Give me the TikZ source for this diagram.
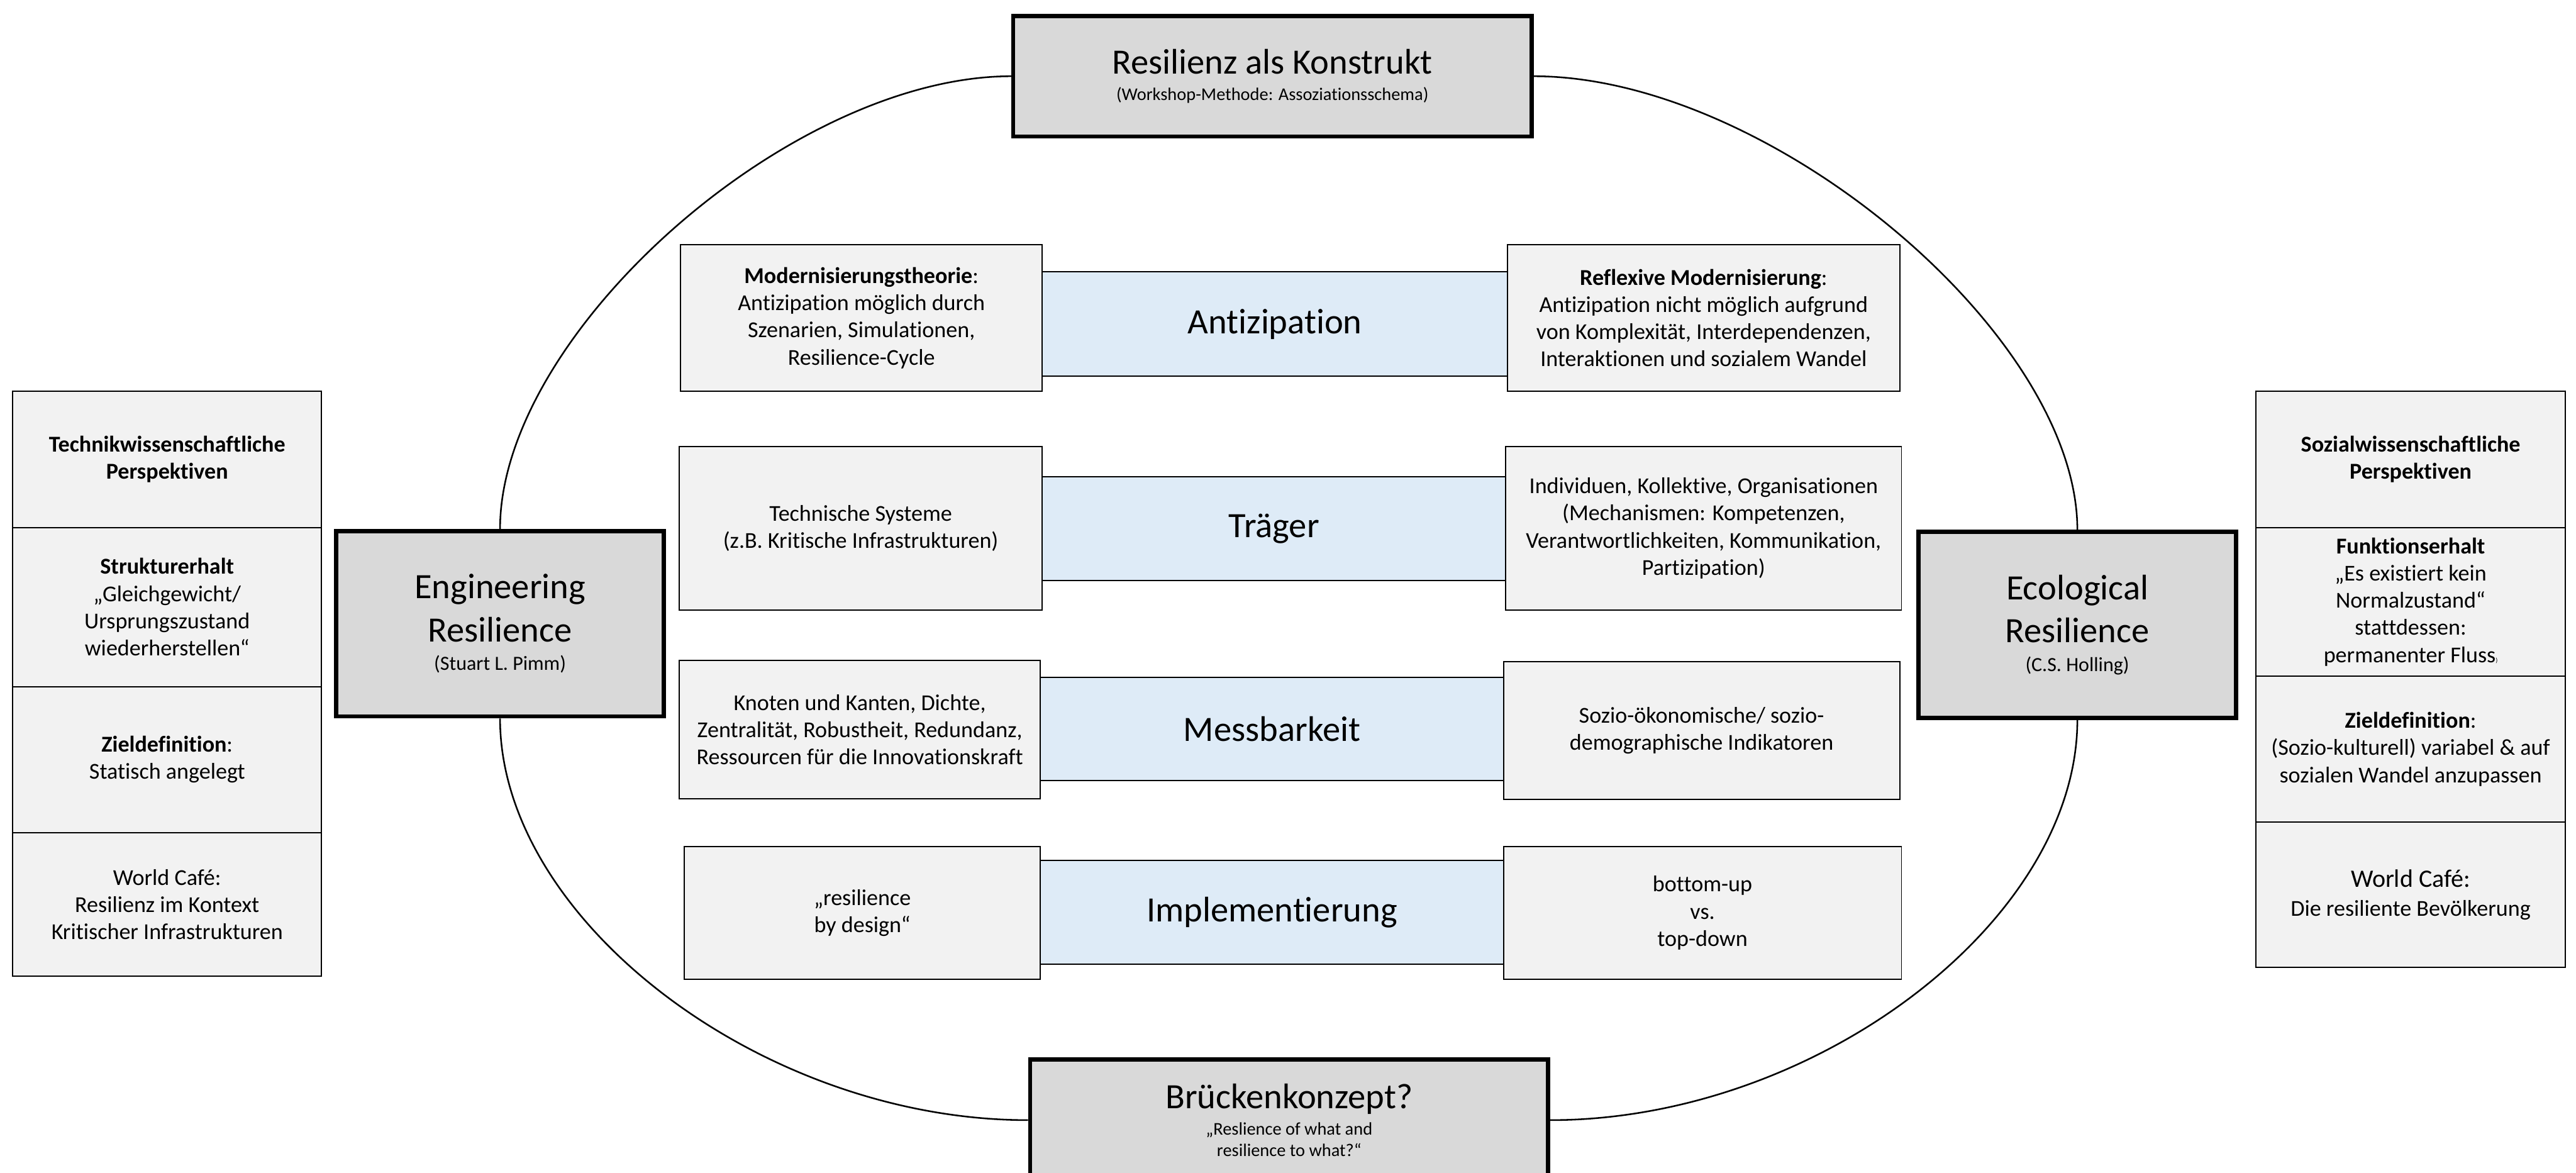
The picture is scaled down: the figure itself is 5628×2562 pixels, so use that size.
\documentclass[tikz,border=0pt]{standalone}
\usepackage{fontspec}
\setmainfont{Carlito}[Ligatures=NoCommon]
\usepackage{xcolor}
\usetikzlibrary{positioning}
\definecolor{headgrey}{HTML}{D9D9D9}
\definecolor{cellgrey}{HTML}{F2F2F2}
\definecolor{topicblue}{HTML}{DEEBF7}
\tikzset{
	boxsize/.style 2 args={minimum width=#1cm, minimum height=#2cm},
	concept/.style={draw=black, line width=2.6pt, fill=headgrey, inner sep=0pt, align=center, font=\fontsize{22.1}{26.7}\selectfont},
	cell/.style={draw=black, line width=0.75pt, fill=cellgrey, inner sep=0pt, outer sep=0pt, align=center, font=\fontsize{14.1}{16.9}\selectfont},
	topic/.style={cell, fill=topicblue, font=\fontsize{22.1}{26.7}\selectfont},
	arc/.style={draw, line width=1pt}
}
\newcommand{\subtxt}{\fontsize{11.1}{13.4}\selectfont}
\newcommand{\authtxt}{\fontsize{12.5}{15}\selectfont}

\begin{document}
\begin{tikzpicture}[x=0.01cm, y=-0.01cm]
	\useasboundingbox (0,0) rectangle (5628,2562);
	
	% Main concepts (thick grey boxes)
	\node[concept, boxsize={11.32}{2.63}] (konstrukt) at (2780,166.5) {Resilienz als Konstrukt\\[-10.5pt]{\subtxt (Workshop-Methode: Assoziationsschema)}};
	\node[concept, boxsize={7.15}{4.05}] (eng) at (1092.5,1362.5) {Engineering\\Resilience\\[-8.8pt]{\authtxt (Stuart L. Pimm)}};
	\node[concept, boxsize={6.93}{4.06}] (eco) at (4538.5,1365) {Ecological\\Resilience\\[-8.8pt]{\authtxt (C.S. Holling)}};
	\node[concept, boxsize={11.31}{2.64}] (bruecke) at (2816.5,2447) {Brückenkonzept?\\[-10.2pt]{\subtxt „Reslience of what and}\\[-13.3pt]{\subtxt resilience to what?“}};
	
	% Oval connecting the main concepts
	\draw[arc] (konstrukt.west) .. controls +(-482,0) and +(0,-427) .. (eng.north);
	\draw[arc] (konstrukt.east) .. controls +(513,0) and +(0,-428) .. (eco.north);
	\draw[arc] (eng.south) .. controls +(0,441) and +(-579,0) .. (bruecke.west);
	\draw[arc] (eco.south) .. controls +(0,440) and +(578,0) .. (bruecke.east);
	
	% Left column: engineering perspective
	\node[cell, boxsize={6.74}{2.97}, anchor=north west] (tech1) at (28,855) {\textbf{Technikwissenschaftliche}\\\textbf{Perspektiven}};
	\node[cell, boxsize={6.74}{3.48}, below=0pt of tech1] (tech2) {\textbf{Strukturerhalt}\\„Gleichgewicht/\\Ursprungszustand\\wiederherstellen“};
	\node[cell, boxsize={6.74}{3.18}, below=0pt of tech2] (tech3) {\textbf{Zieldefinition}:\\Statisch angelegt};
	\node[cell, boxsize={6.74}{3.14}, below=0pt of tech3] (tech4) {World Café:\\Resilienz im Kontext\\Kritischer Infrastrukturen};
	
	% Right column: social science perspective
	\node[cell, boxsize={6.75}{2.97}, anchor=north west] (soz1) at (4929,855) {\textbf{Sozialwissenschaftliche}\\\textbf{Perspektiven}};
	\node[cell, boxsize={6.75}{3.25}, below=0pt of soz1] (soz2) {\textbf{Funktionserhalt}\\„Es existiert kein\\Normalzustand“\\stattdessen:\\permanenter Fluss{\fontsize{4}{4}\selectfont)}};
	\node[cell, boxsize={6.75}{3.18}, below=0pt of soz2] (soz3) {\textbf{Zieldefinition}:\\(Sozio-kulturell) variabel \& auf\\sozialen Wandel anzupassen};
	\node[cell, boxsize={6.75}{3.18}, below=0pt of soz3] (soz4) {{\fontsize{15.6}{18}\selectfont World Café:}\\[1.3pt]Die resiliente Bevölkerung};
	
	% Topics in the middle
	\node[topic, boxsize={10.17}{2.28}] (antizipation) at (2785.5,708) {Antizipation};
	\node[cell, boxsize={7.90}{3.21}] (antiL) at (1882,694.5) {\textbf{Modernisierungstheorie}:\\Antizipation möglich durch\\Szenarien, Simulationen,\\Resilience-Cycle};
	\node[cell, boxsize={8.56}{3.21}] (antiR) at (3722,694.5) {\textbf{Reflexive Modernisierung}:\\Antizipation nicht möglich aufgrund\\von Komplexität, Interdependenzen,\\Interaktionen und sozialem Wandel};
	
	\node[topic, boxsize={10.13}{2.27}] (traeger) at (2783.5,1154.5) {Träger};
	\node[cell, boxsize={7.93}{3.58}] (traegerL) at (1880.5,1154) {Technische Systeme\\(z.B. Kritische Infrastrukturen)};
	\node[cell, boxsize={8.64}{3.58}] (traegerR) at (3722,1154) {Individuen, Kollektive, Organisationen\\(Mechanismen: Kompetenzen,\\Verantwortlichkeiten, Kommunikation,\\Partizipation)};
	
	\node[topic, boxsize={10.12}{2.25}] (mess) at (2779,1592.5) {Messbarkeit};
	\node[cell, boxsize={7.89}{3.02}] (messL) at (1878.5,1594) {Knoten und Kanten, Dichte,\\Zentralität, Robustheit, Redundanz,\\Ressourcen für die Innovationskraft};
	\node[cell, boxsize={8.65}{3.00}] (messR) at (3717.5,1596) {Sozio-ökonomische/ sozio-\\demographische Indikatoren};
	
	\node[topic, boxsize={10.12}{2.26}] (impl) at (2779,1993) {Implementierung};
	\node[cell, boxsize={7.78}{2.89}] (implL) at (1884,1994.5) {„resilience\\by design“};
	\node[cell, boxsize={8.69}{2.89}] (implR) at (3719.5,1994.5) {bottom-up\\vs.\\top-down};
	
\end{tikzpicture}
\end{document}
